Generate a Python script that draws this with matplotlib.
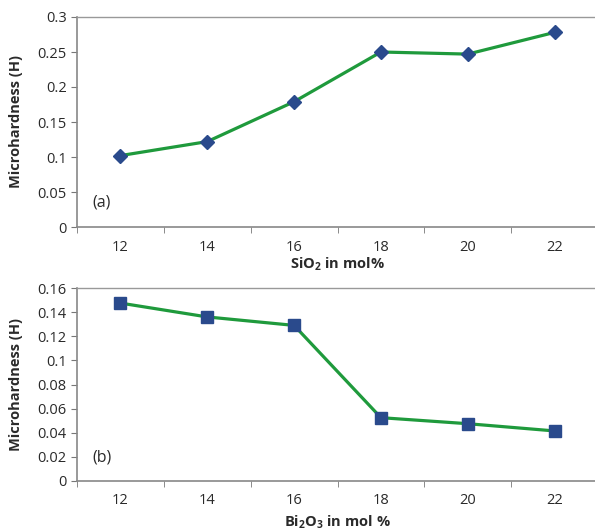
import numpy as np
import matplotlib.pyplot as plt

mol = ['12', '14', '16', '18', '20', '22']
h_sio2 = [0.102, 0.122, 0.179, 0.250, 0.247, 0.278]
h_bi2o3 = [0.1475, 0.136, 0.129, 0.0525, 0.0475, 0.0415]

plt.rcParams['font.family'] = ['Open Sans', 'DejaVu Sans']
plt.rcParams['mathtext.default'] = 'regular'

green = '#1f9a3c'
blue = '#2a4a8c'
txt = '#2a2a2a'
W, H = 595, 532

fig = plt.figure(figsize=(W / 100, H / 100), dpi=100)
ax1 = fig.add_axes([77 / W, 1 - 227 / H, 521 / W, 210 / H])
ax2 = fig.add_axes([77 / W, 1 - 481 / H, 521 / W, 193 / H])

x = np.arange(len(mol))


def lab(v):
    s = ('%.2f' % v).rstrip('0').rstrip('.')
    return s if s else '0'


def style(ax, ymax, step):
    ticks = np.arange(0, ymax + step / 2, step)
    ax.set_xlim(-0.5, len(mol) - 0.5)
    ax.set_ylim(0, ymax)
    ax.set_yticks(ticks)
    ax.set_yticklabels([lab(v) for v in ticks])
    ax.set_xticks(x)
    ax.set_xticklabels(mol)
    ax.set_xticks(np.arange(-0.5, len(mol)), minor=True)
    ax.tick_params(axis='x', which='major', length=0, pad=9, labelsize=10.5, labelcolor=txt)
    ax.tick_params(axis='x', which='minor', length=4, color='#777777')
    ax.tick_params(axis='y', length=4, color='#777777', labelsize=10.5, labelcolor=txt)
    for s in ['left', 'bottom']:
        ax.spines[s].set_color('#888888')
        ax.spines[s].set_linewidth(1.2)
    for s in ['top', 'right']:
        ax.spines[s].set_color('#999999')
        ax.spines[s].set_linewidth(1.0)
    ax.set_ylabel('Microhardness (H)', fontsize=10.5, fontweight='bold', color=txt)
    ax.yaxis.set_label_coords(-0.103, 0.5)


ax1.plot(x, h_sio2, color=green, lw=2.3, marker='D', ms=7, mfc=blue, mec=blue)
style(ax1, 0.3, 0.05)
ax1.set_xlabel('SiO$_2$ in mol%', fontsize=10.5, fontweight='bold', color=txt, labelpad=1)
ax1.text(0.03, 0.1, '(a)', transform=ax1.transAxes, fontsize=11.5, color=txt)

ax2.plot(x, h_bi2o3, color=green, lw=2.3, marker='s', ms=9, mfc=blue, mec=blue)
style(ax2, 0.16, 0.02)
ax2.set_xlabel('Bi$_2$O$_3$ in mol %', fontsize=10.5, fontweight='bold', color=txt, labelpad=4)
ax2.text(0.03, 0.1, '(b)', transform=ax2.transAxes, fontsize=11.5, color=txt)

fig.savefig('out.png', dpi=100)
